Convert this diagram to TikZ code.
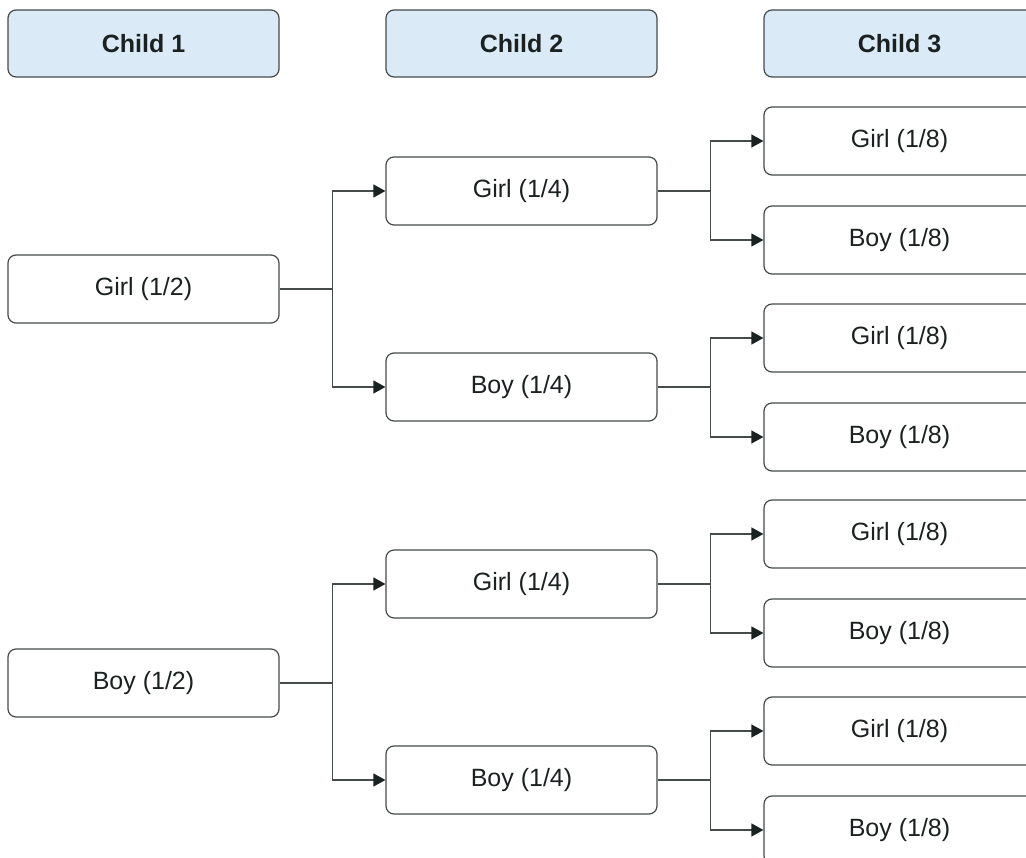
\documentclass[tikz,border=0pt]{standalone}
\usepackage{fontspec}
\setmainfont{Liberation Sans}
\usetikzlibrary{arrows.meta,positioning}
\definecolor{headblue}{HTML}{DAEBF7}
\definecolor{linegray}{HTML}{454A4A}
\definecolor{textdark}{HTML}{1B2020}

\tikzset{
  box/.style={rectangle, draw=linegray, line width=1.2pt, rounded corners=8pt,
    minimum width=271pt, minimum height=68pt, inner sep=0pt, text=textdark,
    font=\fontsize{25}{30}\selectfont},
  head/.style={box, minimum height=67pt, fill=headblue,
    font=\fontsize{25}{30}\selectfont\bfseries},
  link/.style={draw=linegray, line width=1.2pt},
  arr/.style={link, -{Triangle[length=12pt,width=13pt,color=textdark]}},
}

\begin{document}
\begin{tikzpicture}[x=1pt, y=-1pt]
    \path[use as bounding box, clip] (0,0) rectangle (1026,858);

    % Headers
    \node[head] at (143.5, 43.5) (c1) {Child 1};
    \node[head] at (521.5, 43.5) (c2) {Child 2};
    \node[head] at (899.5, 43.5) (c3) {Child 3};

    % Child 1
    \node[box] at (143.5, 289) (g) {Girl (1/2)};
    \node[box] at (143.5, 683) (b) {Boy (1/2)};

    % Child 2
    \node[box] at (521.5, 191) (gg) {Girl (1/4)};
    \node[box] at (521.5, 387) (gb) {Boy (1/4)};
    \node[box] at (521.5, 584) (bg) {Girl (1/4)};
    \node[box] at (521.5, 780) (bb) {Boy (1/4)};

    % Child 3
    \node[box] at (899.5, 141) (ggg) {Girl (1/8)};
    \node[box] at (899.5, 240) (ggb) {Boy (1/8)};
    \node[box] at (899.5, 338) (gbg) {Girl (1/8)};
    \node[box] at (899.5, 437) (gbb) {Boy (1/8)};
    \node[box] at (899.5, 534) (bgg) {Girl (1/8)};
    \node[box] at (899.5, 633) (bgb) {Boy (1/8)};
    \node[box] at (899.5, 731) (bbg) {Girl (1/8)};
    \node[box] at (899.5, 830) (bbb) {Boy (1/8)};

    % Junctions
    \coordinate (jg) at (332.5, 289);
    \coordinate (jb) at (332.5, 683);
    \coordinate (jgg) at (710.5, 191);
    \coordinate (jgb) at (710.5, 387);
    \coordinate (jbg) at (710.5, 584);
    \coordinate (jbb) at (710.5, 780);

    \draw[link] (g) -- (jg);
    \draw[arr] (jg) |- (gg);
    \draw[arr] (jg) |- (gb);
    \draw[link] (b) -- (jb);
    \draw[arr] (jb) |- (bg);
    \draw[arr] (jb) |- (bb);

    \draw[link] (gg) -- (jgg);
    \draw[arr] (jgg) |- (ggg);
    \draw[arr] (jgg) |- (ggb);
    \draw[link] (gb) -- (jgb);
    \draw[arr] (jgb) |- (gbg);
    \draw[arr] (jgb) |- (gbb);
    \draw[link] (bg) -- (jbg);
    \draw[arr] (jbg) |- (bgg);
    \draw[arr] (jbg) |- (bgb);
    \draw[link] (bb) -- (jbb);
    \draw[arr] (jbb) |- (bbg);
    \draw[arr] (jbb) |- (bbb);

\end{tikzpicture}
\end{document}
